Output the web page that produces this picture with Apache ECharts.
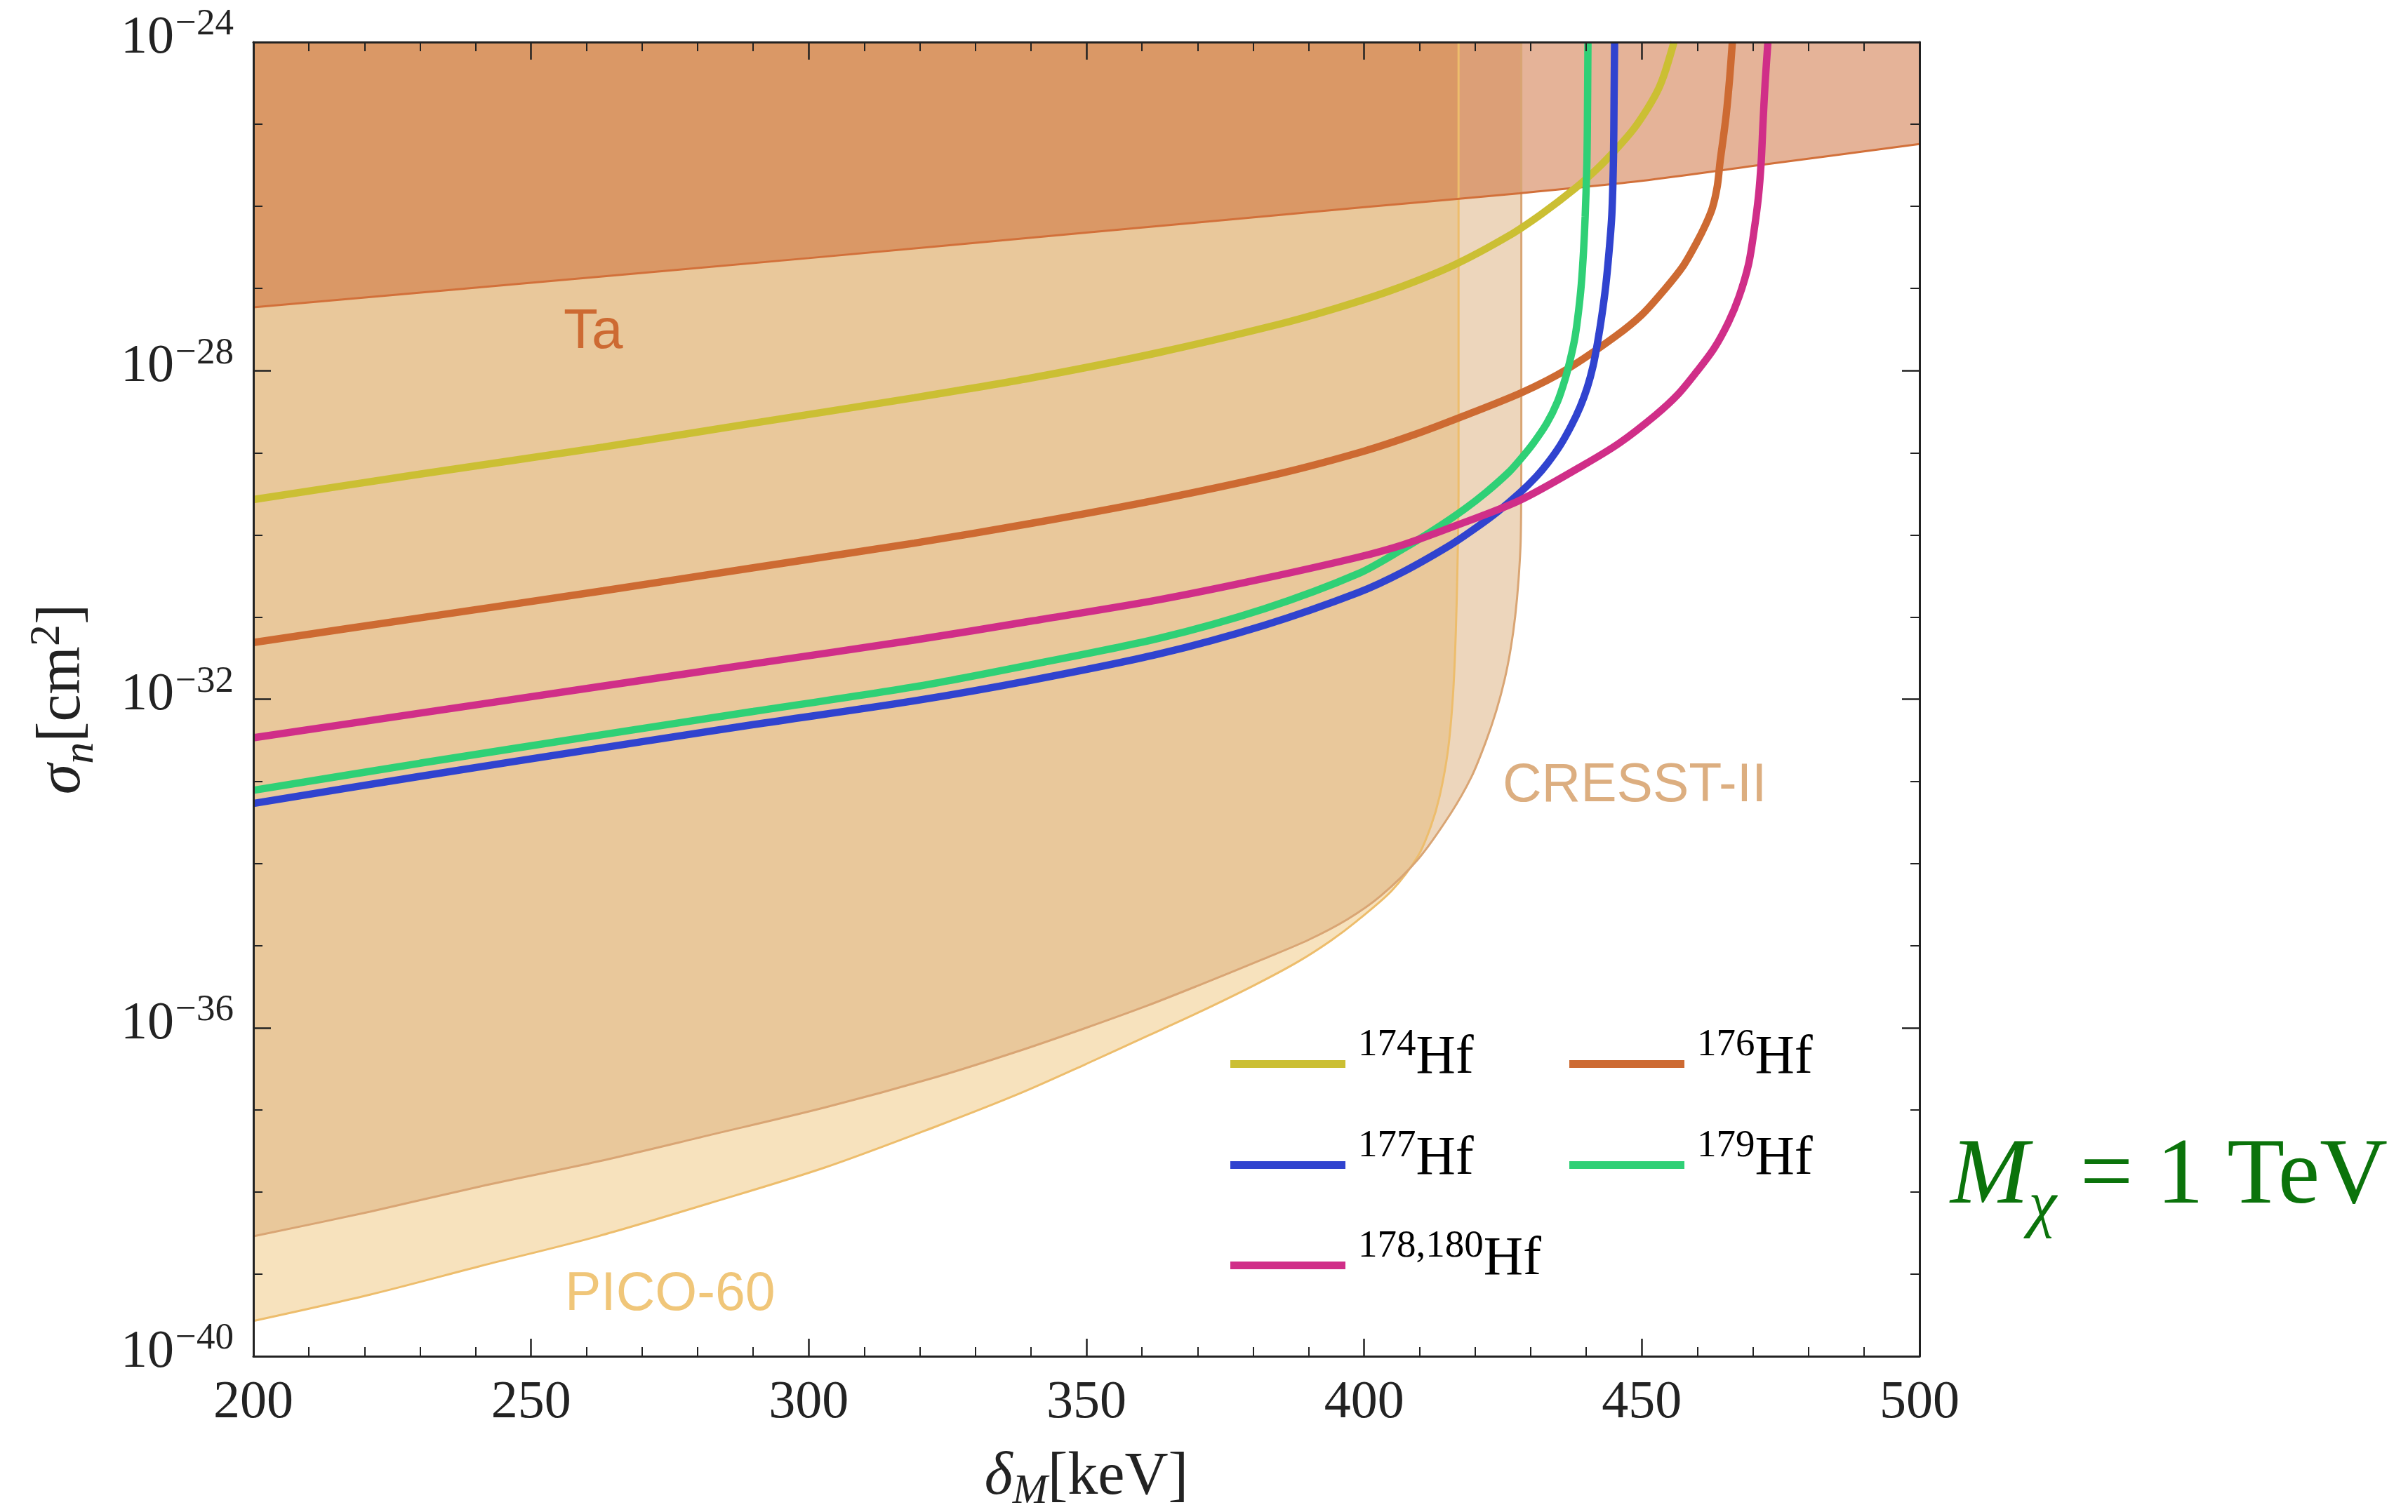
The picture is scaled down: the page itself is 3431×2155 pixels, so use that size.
<!DOCTYPE html>
<html>
<head>
<meta charset="utf-8">
<title>Inelastic dark matter limits on Hf isotopes</title>
<script src="https://cdn.jsdelivr.net/npm/echarts@6/dist/echarts.min.js"></script>
<style>
  html, body { margin: 0; padding: 0; background: #ffffff; }
  #chart { width: 3431px; height: 2155px; }
</style>
</head>
<body>
<div id="chart"></div>
<script>
// x: mass splitting δM [keV];  y: log10 of σn [cm²]
const xRange = [200, 500];
const yExponents = [-40, -24];

// Hf isotope sensitivity curves
const hf174 = [[200,-29.57],[230,-29.26],[263,-28.93],[290,-28.64],[319,-28.33],[340,-28.09],[363,-27.78],[385,-27.43],[395,-27.24],[405,-27.02],[416,-26.72],[426,-26.36],[432,-26.09],[438,-25.78],[442,-25.54],[445.3,-25.31],[448.5,-25.06],[451.1,-24.80],[453,-24.57],[454.2,-24.36],[455.8,-24.0]];
const hf176 = [[200,-31.31],[230,-31.01],[263,-30.68],[290,-30.40],[319,-30.10],[340,-29.86],[363,-29.57],[385,-29.25],[400,-28.98],[409,-28.78],[418,-28.55],[428.6,-28.26],[436.6,-27.98],[445.3,-27.58],[450,-27.32],[454,-27.02],[457.5,-26.72],[459.8,-26.45],[461.5,-26.22],[462.7,-26.02],[463.6,-25.75],[464.1,-25.45],[464.7,-25.15],[465.2,-24.88],[465.8,-24.45],[466.3,-24.0]];
const hf177 = [[200,-33.27],[230,-32.94],[263,-32.59],[290,-32.31],[319,-32.02],[340,-31.77],[363,-31.45],[382,-31.10],[399,-30.70],[407,-30.45],[415.6,-30.12],[420,-29.92],[424,-29.72],[428,-29.49],[431,-29.29],[433,-29.13],[435.3,-28.91],[437.3,-28.67],[438.9,-28.44],[440.2,-28.20],[441.2,-27.95],[442,-27.67],[442.8,-27.33],[443.5,-26.97],[444.1,-26.55],[444.6,-26.10],[444.9,-25.40],[445.0,-24.7],[445.1,-24.0]];
const hf179 = [[200,-33.11],[230,-32.78],[263,-32.43],[290,-32.15],[319,-31.85],[340,-31.58],[363,-31.26],[382,-30.90],[399,-30.47],[407,-30.17],[413,-29.92],[418,-29.69],[422,-29.48],[426,-29.24],[428,-29.09],[430.5,-28.88],[432.9,-28.64],[434.8,-28.38],[436.2,-28.10],[437.2,-27.84],[438,-27.58],[438.6,-27.28],[439.1,-26.95],[439.5,-26.55],[439.8,-26.12],[440.1,-25.50],[440.2,-25.0],[440.3,-24.0]];
const hf178180 = [[200,-32.47],[230,-32.17],[263,-31.84],[290,-31.57],[319,-31.28],[340,-31.05],[363,-30.79],[382,-30.53],[399,-30.27],[407,-30.12],[416,-29.90],[428,-29.58],[439.5,-29.15],[446,-28.88],[452.5,-28.54],[456.5,-28.29],[459.8,-28.02],[463,-27.73],[465.6,-27.41],[467.5,-27.10],[469.2,-26.71],[470.2,-26.30],[471,-25.88],[471.5,-25.45],[471.8,-25.01],[472.2,-24.50],[472.7,-24.0]];

// Excluded regions: lower boundary of each, excluded above it
const taBound = [[200,-27.23],[250,-26.93],[300,-26.63],[350,-26.32],[400,-26.01],[428,-25.84],[450,-25.69],[471,-25.50],[500,-25.24]];
const cresstBound = [[200,-38.54],[221,-38.24],[241,-37.93],[262,-37.63],[282,-37.31],[303,-36.97],[323,-36.60],[338,-36.28],[350,-36.00],[361,-35.73],[370,-35.49],[382,-35.16],[390,-34.93],[397,-34.68],[402.9,-34.40],[409.7,-33.95],[415.6,-33.39],[419.3,-32.95],[421.9,-32.52],[423.8,-32.14],[425.3,-31.76],[426.4,-31.38],[427.2,-30.99],[427.8,-30.55],[428.2,-30.04],[428.3,-29.0],[428.3,-24.0]];
const picoBound = [[200,-39.57],[221,-39.25],[241,-38.90],[262,-38.54],[282,-38.14],[303,-37.70],[323,-37.20],[338,-36.80],[350,-36.44],[361,-36.10],[370,-35.82],[380,-35.49],[388,-35.20],[394,-34.94],[398.7,-34.70],[405,-34.33],[409.7,-33.91],[412,-33.55],[413.6,-33.18],[415.1,-32.62],[416.0,-31.95],[416.5,-31.20],[416.8,-30.40],[417.0,-29.47],[417.0,-24.0]];

const serif = "'Liberation Serif','DejaVu Serif',serif";
const sans = "'Liberation Sans',Arial,sans-serif";
const ink = '#222222';

const curves = [
  { name: '174Hf', data: hf174, color: '#cbbf33' },
  { name: '176Hf', data: hf176, color: '#cd6a32' },
  { name: '177Hf', data: hf177, color: '#3043cf' },
  { name: '179Hf', data: hf179, color: '#2fd076' },
  { name: '178,180Hf', data: hf178180, color: '#d02e88' }
];

const regions = [
  { name: 'PICO-60', data: picoBound, fill: 'rgba(239,197,123,0.5)', edge: '#edbd6c' },
  { name: 'CRESST-II', data: cresstBound, fill: 'rgba(219,173,121,0.5)', edge: '#d9a574' },
  { name: 'Ta', data: taBound, fill: 'rgba(203,103,49,0.5)', edge: '#d2703a' }
];

// legend layout: [series name, left edge of the line sample, centre line of the row]
const legendSlots = [
  ['174Hf', 1753, 1514], ['176Hf', 2236, 1514],
  ['177Hf', 1753, 1658], ['179Hf', 2236, 1658],
  ['178,180Hf', 1753, 1801]
];

const frame = { show: true, onZero: false, lineStyle: { color: ink, width: 3 } };

function xAxisDef(pos, showLabel) {
  return {
    type: 'value', position: pos, min: xRange[0], max: xRange[1], interval: 50, z: 5,
    axisLine: frame,
    axisTick: { show: true, inside: true, length: 25, lineStyle: { color: ink, width: 2.5 } },
    minorTick: { show: true, splitNumber: 5, length: 13, lineStyle: { color: ink, width: 2 } },
    splitLine: { show: false },
    axisLabel: { show: showLabel, margin: 29, fontSize: 76, lineHeight: 76, fontFamily: serif, color: ink }
  };
}

function yAxisDef(pos, showLabel) {
  return {
    type: 'value', position: pos, min: yExponents[0], max: yExponents[1], interval: 4, z: 5,
    axisLine: frame,
    axisTick: { show: true, inside: true, length: 25, lineStyle: { color: ink, width: 2.5 } },
    minorTick: { show: true, splitNumber: 4, length: 13, lineStyle: { color: ink, width: 2 } },
    splitLine: { show: false },
    axisLabel: {
      show: showLabel, margin: 28, align: 'right', verticalAlign: 'middle',
      formatter: v => '{b|10}{s|\u2212' + Math.abs(v) + '}',
      rich: {
        b: { fontSize: 76, lineHeight: 60, padding: [0, 0, 10, 0], fontFamily: serif, color: ink, verticalAlign: 'middle' },
        s: { fontSize: 53, lineHeight: 60, padding: [0, 0, 49, 2], fontFamily: serif, color: ink, verticalAlign: 'middle' }
      }
    }
  };
}

const xA = xAxisDef('bottom', true);
xA.name = '{i|\u03b4}{sub|M}{r|[keV]}';
xA.nameLocation = 'middle';
xA.nameGap = 163;
xA.nameTextStyle = {
  rich: {
    i: { fontSize: 86, lineHeight: 20, fontStyle: 'italic', fontFamily: serif, color: ink, verticalAlign: 'middle' },
    sub: { fontSize: 60, lineHeight: 20, padding: [40, 0, 0, 0], fontStyle: 'italic', fontFamily: serif, color: ink, verticalAlign: 'middle' },
    r: { fontSize: 86, lineHeight: 20, fontFamily: serif, color: ink, verticalAlign: 'middle' }
  }
};

const yA = yAxisDef('left', true);
yA.name = '{i|\u03c3}{sub|n}{r|[cm}{sup|2}{r|]}';
yA.nameLocation = 'middle';
yA.nameRotate = 90;
yA.nameGap = 261;
yA.nameTextStyle = {
  rich: {
    i: { fontSize: 88, lineHeight: 20, fontStyle: 'italic', fontFamily: serif, color: ink, verticalAlign: 'middle' },
    sub: { fontSize: 62, lineHeight: 20, padding: [52, 0, 0, 0], fontStyle: 'italic', fontFamily: serif, color: ink, verticalAlign: 'middle' },
    r: { fontSize: 88, lineHeight: 20, fontFamily: serif, color: ink, verticalAlign: 'middle' },
    sup: { fontSize: 62, lineHeight: 20, padding: [0, 0, 44, 0], fontFamily: serif, color: ink, verticalAlign: 'middle' }
  }
};

const series = [];
regions.forEach(r => {
  series.push({
    name: r.name, type: 'line', data: r.data, xAxisIndex: 0, yAxisIndex: 0,
    showSymbol: false, symbol: 'none', clip: true, silent: true, smooth: 0.3,
    lineStyle: { color: r.edge, width: 3 },
    areaStyle: { color: r.fill, origin: 'end', opacity: 1 },
    emphasis: { disabled: true }
  });
});
curves.forEach(c => {
  series.push({
    name: c.name, type: 'line', data: c.data, xAxisIndex: 0, yAxisIndex: 0,
    color: c.color, showSymbol: false, symbol: 'none', clip: true, smooth: 0.3,
    lineStyle: { color: c.color, width: 10.5 },
    emphasis: { disabled: true }
  });
});

const legendRich = {
  s: { fontSize: 55, lineHeight: 60, padding: [0, 0, 53, 13], fontFamily: serif, color: '#000', verticalAlign: 'middle' },
  b: { fontSize: 78, lineHeight: 60, padding: [0, 0, 16, 0], fontFamily: serif, color: '#000', verticalAlign: 'middle' }
};
// the text block reaches 46px above the line sample, and the legend box starts at the top of that block
const legends = legendSlots.map(([name, left, rowY]) => ({
  data: [name], orient: 'vertical', left: left, top: rowY - 5.5 - 46, padding: 0,
  itemWidth: 164, itemHeight: 11, icon: 'rect', selectedMode: false,
  formatter: n => '{s|' + n.replace('Hf', '') + '}{b|Hf}',
  textStyle: { rich: legendRich }
}));

const option = {
  animation: false,
  backgroundColor: '#ffffff',
  grid: { left: 361, top: 60, width: 2374, height: 1873, outerBoundsMode: 'none', containLabel: false },
  xAxis: [xA, xAxisDef('top', false)],
  yAxis: [yA, yAxisDef('right', false)],
  legend: legends,
  series: series,
  graphic: [
    { type: 'text', x: 803, y: 474, z: 20, silent: true,
      style: { text: 'Ta', fontFamily: sans, fontSize: 80, lineHeight: 80, fill: '#cd6a32', verticalAlign: 'middle', align: 'left' } },
    { type: 'text', x: 2141, y: 1121, z: 20, silent: true,
      style: { text: 'CRESST-II', fontFamily: sans, fontSize: 77, lineHeight: 77, fill: '#dcae80', verticalAlign: 'middle', align: 'left' } },
    { type: 'text', x: 805, y: 1846, z: 20, silent: true,
      style: { text: 'PICO-60', fontFamily: sans, fontSize: 77, lineHeight: 77, fill: '#f0c679', verticalAlign: 'middle', align: 'left' } },
    { type: 'text', x: 2779, y: 1679, z: 20, silent: true,
      style: {
        text: '{i|M}{sub|\u03c7}{r| = 1 TeV}', verticalAlign: 'middle', align: 'left',
        rich: {
          i: { fontSize: 134, lineHeight: 20, fontStyle: 'italic', fontFamily: serif, fill: '#0b730b', verticalAlign: 'middle' },
          sub: { fontSize: 90, lineHeight: 20, padding: [86, 0, 0, 0], fontStyle: 'italic', fontFamily: serif, fill: '#0b730b', verticalAlign: 'middle' },
          r: { fontSize: 134, lineHeight: 20, fontFamily: serif, fill: '#0b730b', verticalAlign: 'middle' }
        }
      } }
  ]
};

const chart = echarts.init(document.getElementById('chart'), null, { renderer: 'canvas' });
chart.setOption(option);
</script>
</body>
</html>
